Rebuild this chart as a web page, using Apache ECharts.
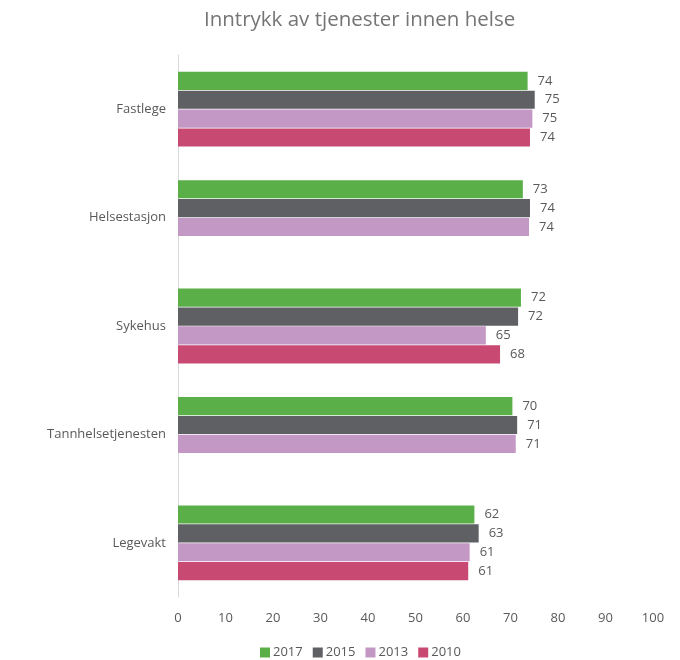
<!DOCTYPE html>
<html>
<head>
<meta charset="utf-8">
<script src="https://cdn.jsdelivr.net/npm/echarts@6/dist/echarts.min.js"></script>
<style>
  html, body { margin: 0; padding: 0; background: #fff; }
  #chart { width: 680px; height: 660px; }
</style>
</head>
<body>
<div id="chart"></div>
<script>
var categories = ['Fastlege', 'Helsestasjon', 'Sykehus', 'Tannhelsetjenesten', 'Legevakt'];
var years = ['2017', '2015', '2013', '2010'];
var values2017 = [73.6, 72.6, 72.2, 70.4, 62.4];
var values2015 = [75.1, 74.1, 71.6, 71.4, 63.3];
var values2013 = [74.6, 73.9, 64.8, 71.1, 61.4];
var values2010 = [74.1, null, 67.8, null, 61.1];
var xTicks = [0, 10, 20, 30, 40, 50, 60, 70, 80, 90, 100];

var colors = ['#5aaf49', '#5f6063', '#c398c5', '#c84a72'];
var font = '"Open Sans", "Noto Sans", sans-serif';

function makeSeries(name, data, color) {
    return {
        name: name,
        type: 'bar',
        data: data,
        barGap: '4%',
        barCategoryGap: '31%',
        itemStyle: {color: color},
        label: {
            show: true,
            position: 'right',
            distance: 10,
            color: '#595959',
            fontSize: 13,
            fontFamily: font,
            formatter: function(p) {
                return Math.round(p.value);
            }
        }
    };
}

var myChart = echarts.init(document.getElementById('chart'));
myChart.setOption({
    animation: false,
    textStyle: {fontFamily: font},
    title: {
        text: 'Inntrykk av tjenester innen helse',
        left: 199,
        top: 5,
        textStyle: {fontSize: 20.5, fontWeight: 'normal', color: '#757575', fontFamily: font}
    },
    legend: {
        top: 641,
        left: 255,
        itemWidth: 10,
        itemHeight: 10,
        itemGap: 10,
        icon: 'rect',
        data: years,
        textStyle: {fontSize: 13, color: '#595959', fontFamily: font, padding: [0, 0, 0, -2]}
    },
    grid: {left: 178, right: 27, top: 55, bottom: 63},
    xAxis: {
        type: 'value',
        min: 0,
        max: 100,
        interval: 10,
        axisLine: {show: false},
        axisTick: {show: false},
        splitLine: {show: false},
        axisLabel: {
            color: '#595959',
            fontSize: 13,
            margin: 15,
            formatter: function(v) {
                return xTicks.indexOf(v) >= 0 ? String(v) : '';
            }
        }
    },
    yAxis: {
        type: 'category',
        inverse: true,
        data: categories,
        axisLine: {show: true, lineStyle: {color: '#d9d9d9'}},
        axisTick: {show: false},
        axisLabel: {color: '#595959', fontSize: 13, margin: 12}
    },
    series: [
        makeSeries(years[0], values2017, colors[0]),
        makeSeries(years[1], values2015, colors[1]),
        makeSeries(years[2], values2013, colors[2]),
        makeSeries(years[3], values2010, colors[3])
    ]
});
window.onresize = myChart.resize;
</script>
</body>
</html>
